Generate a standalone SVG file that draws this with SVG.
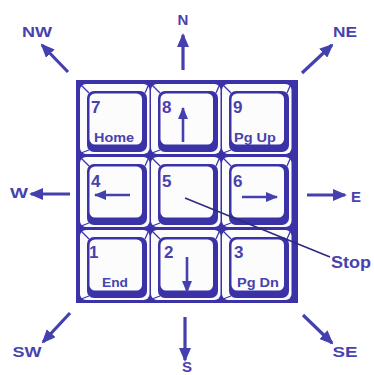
<svg xmlns="http://www.w3.org/2000/svg" xmlns:xlink="http://www.w3.org/1999/xlink" width="374" height="375" viewBox="0 0 374 375">
<style>
.lbl{font-family:"Liberation Sans",Arial,sans-serif;font-weight:bold;fill:#4842ae}
.dig{font-size:17px}
.sub{font-size:12.5px;text-anchor:middle}
.cmp{font-size:15px;text-anchor:middle}
.blue{fill:#3a32a6}
.white{fill:#fcfcfd}
.ar{stroke:#4440ad;stroke-width:3.2;fill:none}
.ka{stroke:#4440ad;stroke-width:2.6;fill:none}
.bev{stroke:#3a32a6;stroke-width:1.2}
</style>
<defs>
<marker id="big" markerUnits="userSpaceOnUse" markerWidth="14" markerHeight="12" viewBox="0 0 14 12" refX="12" refY="6" orient="auto">
<path d="M0,0 L14,6 L0,12 z" fill="#4440ad"/>
</marker>
<marker id="small" markerUnits="userSpaceOnUse" markerWidth="12" markerHeight="10" viewBox="0 0 12 10" refX="11" refY="5" orient="auto">
<path d="M0,0 L12,5 L0,10 z" fill="#4440ad"/>
</marker>
<g id="cap">
<rect x="0" y="0" width="69.5" height="70" rx="6" class="white"/>
<line x1="1" y1="1" x2="9" y2="9" class="bev"/>
<line x1="68.5" y1="1" x2="65" y2="9" class="bev"/>
<line x1="1" y1="69" x2="9" y2="66" class="bev"/>
<rect x="7" y="7" width="60" height="61" rx="7" class="blue"/>
<rect x="9.5" y="9.5" width="52.5" height="51" rx="5.5" class="white"/>
</g>
</defs>
<rect x="0" y="0" width="374" height="375" fill="#ffffff"/>
<rect id="frame" x="76" y="80" width="222" height="223" class="blue"/>

<g id="key7"><use xlink:href="#cap" x="80" y="84"/><text class="lbl dig" x="91" y="113">7</text><text class="lbl sub" x="114" y="142" textLength="40" lengthAdjust="spacingAndGlyphs">Home</text></g>
<g id="key8"><use xlink:href="#cap" x="151" y="84"/><text class="lbl dig" x="162" y="113">8</text><line class="ka" x1="183" y1="142" x2="183" y2="108" marker-end="url(#small)"/></g>
<g id="key9"><use xlink:href="#cap" x="222" y="84"/><text class="lbl dig" x="233" y="113">9</text><text class="lbl sub" x="255" y="142" textLength="42" lengthAdjust="spacingAndGlyphs">Pg Up</text></g>
<g id="key4"><use xlink:href="#cap" x="80" y="157"/><text class="lbl dig" x="91" y="187">4</text><line class="ka" x1="130" y1="195" x2="95" y2="195" marker-end="url(#small)"/></g>
<g id="key5"><use xlink:href="#cap" x="151" y="157"/><text class="lbl dig" x="162" y="187">5</text></g>
<g id="key6"><use xlink:href="#cap" x="222" y="157"/><text class="lbl dig" x="233" y="187">6</text><line class="ka" x1="242" y1="197" x2="277" y2="197" marker-end="url(#small)"/></g>
<g id="key1"><use xlink:href="#cap" x="80" y="230"/><text class="lbl dig" x="89" y="258">1</text><text class="lbl sub" x="115" y="287" textLength="26" lengthAdjust="spacingAndGlyphs">End</text></g>
<g id="key2"><use xlink:href="#cap" x="151" y="230"/><text class="lbl dig" x="164" y="258">2</text><line class="ka" x1="187" y1="257" x2="187" y2="292" marker-end="url(#small)"/></g>
<g id="key3"><use xlink:href="#cap" x="222" y="230"/><text class="lbl dig" x="234" y="258">3</text><text class="lbl sub" x="258" y="287" textLength="42" lengthAdjust="spacingAndGlyphs">Pg Dn</text></g>

<g id="connectors">
<line class="ar" x1="183" y1="70" x2="183" y2="35" marker-end="url(#big)"/>
<line class="ar" x1="68" y1="72" x2="42" y2="45" marker-end="url(#big)"/>
<line class="ar" x1="302" y1="73" x2="332" y2="45" marker-end="url(#big)"/>
<line class="ar" x1="70" y1="194" x2="31" y2="194" marker-end="url(#big)"/>
<line class="ar" x1="307" y1="195" x2="345" y2="195" marker-end="url(#big)"/>
<line class="ar" x1="70" y1="313" x2="43" y2="342" marker-end="url(#big)"/>
<line class="ar" x1="185" y1="317" x2="185" y2="360" marker-end="url(#big)"/>
<line class="ar" x1="303" y1="315" x2="332" y2="343" marker-end="url(#big)"/>
<line x1="185" y1="198" x2="330" y2="257" stroke="#2e2a80" stroke-width="1.6"/>
</g>

<g id="labels">
<text class="lbl cmp" x="183" y="25">N</text>
<text class="lbl cmp" x="37" y="37" textLength="30" lengthAdjust="spacingAndGlyphs">NW</text>
<text class="lbl cmp" x="345" y="37" textLength="24" lengthAdjust="spacingAndGlyphs">NE</text>
<text class="lbl cmp" x="19" y="198" textLength="18" lengthAdjust="spacingAndGlyphs">W</text>
<text class="lbl cmp" x="356" y="202">E</text>
<text class="lbl cmp" x="27" y="357" textLength="29" lengthAdjust="spacingAndGlyphs">SW</text>
<text class="lbl cmp" x="187" y="372">S</text>
<text class="lbl cmp" x="345" y="357" textLength="25" lengthAdjust="spacingAndGlyphs">SE</text>
<text class="lbl" x="331" y="268" font-size="16" textLength="40" lengthAdjust="spacingAndGlyphs">Stop</text>
</g>
</svg>
